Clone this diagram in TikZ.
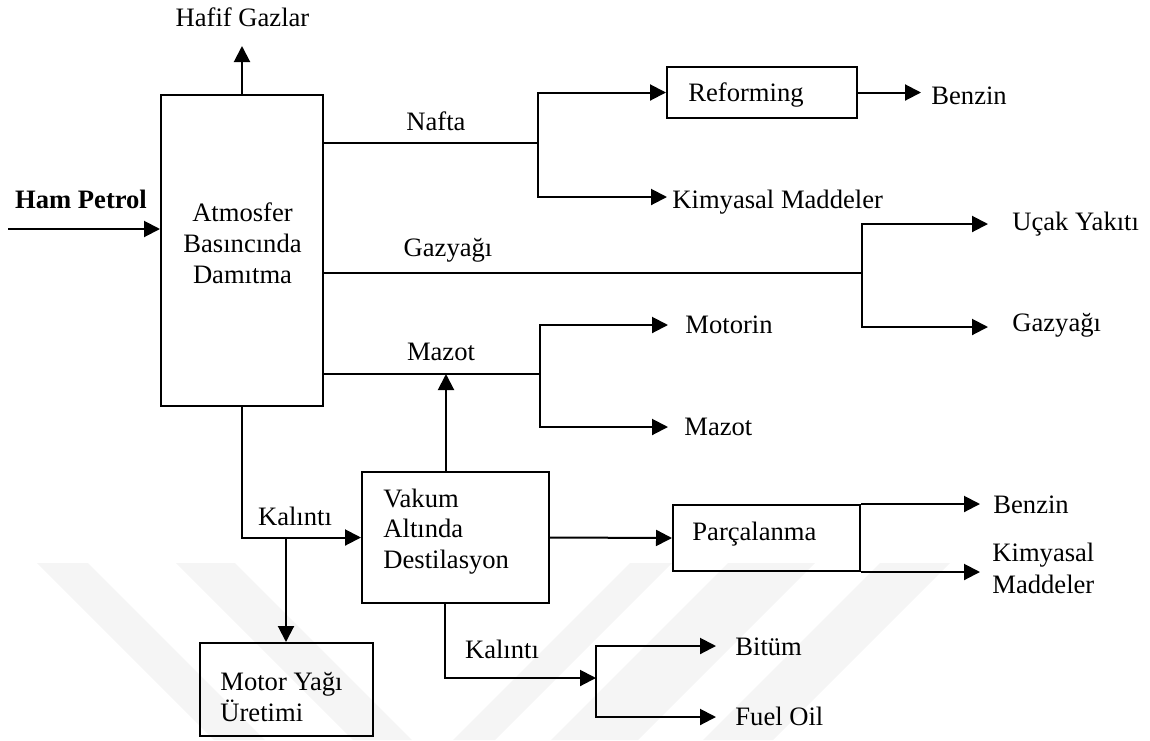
\documentclass[tikz,border=0pt]{standalone}
\usepackage{fontspec}
\setmainfont{Liberation Serif}
\usetikzlibrary{arrows.meta}
\newcommand\dfont{\fontsize{13.3}{15.8}\selectfont}
\begin{document}
\begin{tikzpicture}[x=0.5pt,y=-0.5pt,
  box/.style={draw,line width=1pt,inner sep=0pt},
  lbl/.style={inner sep=0pt,font=\dfont,anchor=base},
  lblw/.style={inner sep=0pt,font=\dfont,anchor=base west},
  arr/.style={line width=1pt,-{Triangle[length=8pt,width=8pt]}},
  ln/.style={line width=1pt},
  wm/.style={fill=black!4,draw=none}]
\useasboundingbox (0,0) rectangle (1150,740);
% faint watermark
\fill[wm] (37,563) -- (88,563) -- (265,740) -- (214,740) -- cycle;
\fill[wm] (176,563) -- (235,563) -- (412,740) -- (353,740) -- cycle;
\fill[wm] (630,563) -- (672,563) -- (495,740) -- (453,740) -- cycle;
\fill[wm] (728,563) -- (815,563) -- (638,740) -- (551,740) -- cycle;
\fill[wm] (880,563) -- (950,563) -- (773,740) -- (703,740) -- cycle;
% boxes
\node[box,minimum width=81pt,minimum height=155.5pt] (atm) at (242,250.5) {};
\node[box,minimum width=95pt,minimum height=25.5pt] (reform) at (762,92.5) {};
\node[box,minimum width=93.5pt,minimum height=65.5pt] (vakum) at (455.5,537.5) {};
\node[box,minimum width=86.5pt,minimum height=46.5pt] (motor) at (286.5,689.5) {};
\node[box,minimum width=93.5pt,minimum height=33pt] (parc) at (766.5,538) {};
% texts
\node[lbl] (hafif) at (242.5,26) {Hafif Gazlar};
\node[lbl,font=\dfont\bfseries] (ham) at (81,208) {Ham Petrol};
\node[lbl] (atm1) at (242.5,221.7) {Atmosfer};
\node[lbl] (atm2) at (242.5,252.3) {Basıncında};
\node[lbl] (atm3) at (242.5,283.3) {Damıtma};
\node[lbl] (nafta) at (436,130) {Nafta};
\node[lbl] (gazm) at (448,256.7) {Gazyağı};
\node[lbl] (mazm) at (441,360.7) {Mazot};
\node[lblw] (reformT) at (688,101) {Reforming};
\node[lblw] (benzin1) at (931,104) {Benzin};
\node[lblw] (kimy1) at (672,208) {Kimyasal Maddeler};
\node[lblw] (ucak) at (1012,230) {Uçak Yakıtı};
\node[lblw] (gaz2) at (1012,331) {Gazyağı};
\node[lblw] (motorin) at (685,333) {Motorin};
\node[lblw] (mazot2) at (684,435) {Mazot};
\node[lblw] (vak1) at (383,507.7) {Vakum};
\node[lblw] (vak2) at (383,537.7) {Altında};
\node[lblw] (vak3) at (383,568) {Destilasyon};
\node[lbl] (kal1) at (295,525.7) {Kalıntı};
\node[lblw] (parcT) at (692,540) {Parçalanma};
\node[lblw] (benzin2) at (993,513) {Benzin};
\node[lblw] (kimy2) at (992,561.7) {Kimyasal};
\node[lblw] (madd2) at (992,593.3) {Maddeler};
\node[lbl] (kal2) at (502,658) {Kalıntı};
\node[lblw] (mot1) at (220,690) {Motor Yağı};
\node[lblw] (mot2) at (220,721.7) {Üretimi};
\node[lblw] (bitum) at (735,655) {Bitüm};
\node[lblw] (fuel) at (735,725) {Fuel Oil};
% coordinates
\coordinate (hamS) at (8,229);
\coordinate (jN) at (538,143);
\coordinate (kimA) at (667,197);
\coordinate (jG) at (862,273);
\coordinate (ucA) at (988,224);
\coordinate (gzA) at (988,327);
\coordinate (jM) at (540,374);
\coordinate (moA) at (668,325);
\coordinate (maA) at (668,427);
\coordinate (vUp) at (446,374);
\coordinate (mJ) at (286,537.5);
\coordinate (vD) at (445,678);
\coordinate (jB) at (596,678);
\coordinate (biA) at (716,646);
\coordinate (fuA) at (716,717);
% connectors
\draw[arr] (hamS) -- (hamS -| atm.west);
\draw[arr] (atm.north) -- ++(0,-48);
\draw[ln] (jN -| atm.east) -- (jN);
\draw[arr] (jN) |- (reform.west);
\draw[arr] (jN) |- (kimA);
\draw[arr] (reform.east) -- ++(63,0);
\draw[ln] (jG -| atm.east) -- (jG);
\draw[arr] (jG) |- (ucA);
\draw[arr] (jG) |- (gzA);
\draw[ln] (jM -| atm.east) -- (jM);
\draw[arr] (jM) |- (moA);
\draw[arr] (jM) |- (maA);
\draw[arr] (vUp |- vakum.north) -- (vUp);
\draw[arr] (atm.south) |- (vakum.west);
\draw[arr] (mJ) -- (mJ |- motor.north);
\draw[arr] (vakum.east) -- (parc.west);
\draw[arr] (parc.north east) -- ++(119,0);
\draw[arr] (parc.south east) -- ++(119,0);
\draw[arr] (vD |- vakum.south) |- (jB);
\draw[arr] (jB) |- (biA);
\draw[arr] (jB) |- (fuA);
\end{tikzpicture}
\end{document}
